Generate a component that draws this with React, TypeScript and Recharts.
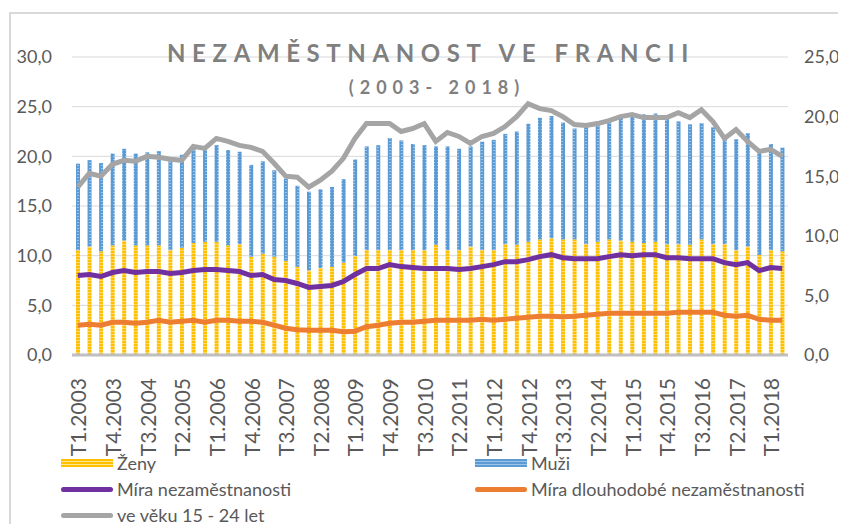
import React from 'react';
import { ComposedChart, Bar, Line, XAxis, YAxis, CartesianGrid } from 'recharts';

// quarters T1.2003 .. T2.2018
const quarters: string[] = [];
for (let y = 2003; y <= 2018; y++) {
  for (let q = 1; q <= 4; q++) {
    if (y === 2018 && q > 2) break;
    quarters.push(`T${q}.${y}`);
  }
}

// bars read on the right axis (0-25)
const zeny = [
  8.8, 9.1, 8.7, 9.2, 9.6, 9.2, 9.2, 9.2, 8.8, 9.0,
  9.4, 9.5, 9.5, 9.2, 9.3, 8.25, 8.5, 8.25, 7.9, 7.4,
  7.1, 7.3, 7.4, 7.75, 8.3, 8.8, 8.8, 8.8, 8.8, 8.8,
  8.8, 9.25, 8.8, 8.8, 9.1, 8.8, 8.8, 9.3, 9.25, 9.5,
  9.7, 9.8, 9.7, 9.7, 9.3, 9.5, 9.7, 9.6, 9.5, 9.4,
  9.5, 9.3, 9.3, 9.25, 9.7, 9.3, 9.3, 8.8, 9.1, 8.4,
  8.8, 8.7,
];

const muzi = [
  7.25, 7.25, 7.4, 7.7, 7.7, 7.7, 7.8, 7.9, 7.8, 7.8,
  8.0, 7.75, 8.1, 8.0, 7.75, 7.7, 7.75, 7.25, 6.9, 6.8,
  6.6, 6.6, 6.7, 7.0, 8.1, 8.7, 8.8, 9.4, 9.2, 8.9,
  8.8, 8.25, 8.7, 8.5, 8.4, 9.1, 9.25, 9.25, 9.5, 9.9,
  10.2, 10.25, 9.8, 9.3, 10.1, 10.1, 10.1, 10.3, 10.75, 10.8,
  10.75, 10.8, 10.3, 10.1, 9.75, 9.8, 9.0, 9.3, 9.5, 8.7,
  8.9, 8.7,
];

// lines read on the left axis (0-30)
const miraNezam = [
  8.0, 8.1, 7.9, 8.3, 8.5, 8.3, 8.4, 8.4, 8.2, 8.3,
  8.5, 8.6, 8.6, 8.5, 8.4, 8.0, 8.1, 7.6, 7.5, 7.2,
  6.8, 6.9, 7.0, 7.4, 8.1, 8.7, 8.7, 9.1, 8.9, 8.8,
  8.7, 8.7, 8.7, 8.6, 8.7, 8.9, 9.1, 9.4, 9.4, 9.6,
  9.9, 10.1, 9.8, 9.7, 9.7, 9.7, 9.9, 10.1, 10.0, 10.1,
  10.1, 9.8, 9.8, 9.7, 9.7, 9.7, 9.3, 9.1, 9.3, 8.5,
  8.8, 8.7,
];

const miraDlouhodobe = [
  3.0, 3.1, 3.0, 3.3, 3.3, 3.2, 3.3, 3.5, 3.3, 3.4,
  3.5, 3.3, 3.5, 3.5, 3.4, 3.4, 3.3, 3.0, 2.7, 2.55,
  2.5, 2.5, 2.5, 2.35, 2.4, 2.85, 3.0, 3.2, 3.3, 3.3,
  3.4, 3.5, 3.5, 3.5, 3.5, 3.6, 3.5, 3.6, 3.7, 3.8,
  3.9, 3.9, 3.85, 3.9, 4.0, 4.1, 4.2, 4.2, 4.2, 4.2,
  4.2, 4.2, 4.3, 4.3, 4.3, 4.3, 4.0, 3.9, 4.0, 3.6,
  3.5, 3.5,
];

const mladi = [
  16.9, 18.3, 18.0, 19.2, 19.6, 19.5, 20.0, 19.9, 19.7, 19.6,
  21.0, 20.8, 21.8, 21.5, 21.1, 20.9, 20.5, 19.3, 18.0, 17.9,
  16.9, 17.6, 18.5, 19.8, 21.8, 23.3, 23.3, 23.3, 22.5, 22.8,
  23.3, 21.5, 22.4, 22.0, 21.3, 22.0, 22.3, 23.0, 24.0, 25.3,
  24.8, 24.6, 24.0, 23.2, 23.1, 23.3, 23.6, 24.0, 24.2, 23.9,
  23.9, 23.9, 24.4, 23.9, 24.7, 23.5, 21.8, 22.7, 21.5, 20.5,
  20.7, 20.0,
];

const leftTicks = [0, 5, 10, 15, 20, 25, 30];
const rightTicks = [0, 5, 10, 15, 20, 25];

const data = quarters.map((q, i) => ({
  q,
  zeny: zeny[i],
  muzi: muzi[i],
  mira: miraNezam[i],
  dlouho: miraDlouhodobe[i],
  mladi: mladi[i],
}));

const FONT = 'Lato, "Liberation Sans", sans-serif';
const TXT = '#595959';
const fmt = (v: number) => v.toFixed(1).replace('.', ',');

const XTick = (props: any) => {
  const { x, y, payload } = props;
  return (
    <g transform={`translate(${x},${y + 15}) rotate(-90)`}>
      <text x={0} y={0} textAnchor="end" dominantBaseline="central" fill={TXT} fontSize={21} fontFamily={FONT}>
        {payload.value}
      </text>
    </g>
  );
};

const legendItems = [
  { label: 'Ženy', kind: 'bar', color: '#FFC000', light: '#FFE699', x: 53, y: 455 },
  { label: 'Muži', kind: 'bar', color: '#5B9BD5', light: '#9DC3E6', x: 467, y: 455 },
  { label: 'Míra nezaměstnanosti', kind: 'line', color: '#7030A0', x: 53, y: 481 },
  { label: 'Míra dlouhodobé nezaměstnanosti', kind: 'line', color: '#ED7D31', x: 467, y: 481 },
  { label: 've věku 15 - 24 let', kind: 'line', color: '#A5A5A5', x: 53, y: 507 },
];

export default function App() {
  return (
    <div style={{ position: 'relative', width: 838, height: 516, fontFamily: FONT }}>
      <div style={{ position: 'absolute', left: 1, top: 4, right: 0, bottom: 0, borderLeft: '2px solid #D9D9D9', borderTop: '2px solid #D9D9D9' }} />
      <ComposedChart width={838} height={516} data={data} margin={{ top: 49, right: 0, left: 4, bottom: 69 }}>
        <defs>
          <pattern id="patZeny" width="4" height="3" patternUnits="userSpaceOnUse">
            <rect width="4" height="3" fill="#FFC000" />
            <rect y="2" width="4" height="1" fill="#FFD966" />
          </pattern>
          <pattern id="patMuzi" width="4" height="3" patternUnits="userSpaceOnUse">
            <rect width="4" height="3" fill="#5B9BD5" />
            <rect x="1" y="1" width="2" height="1" fill="#9DC3E6" />
          </pattern>
        </defs>
        <CartesianGrid yAxisId="left" vertical={false} stroke="#D9D9D9" />
        <XAxis
          dataKey="q"
          interval={2}
          height={100}
          tickLine={false}
          axisLine={{ stroke: '#BFBFBF', strokeWidth: 3 }}
          tick={<XTick />}
        />
        <YAxis
          yAxisId="left"
          width={60}
          domain={[0, 30]}
          ticks={leftTicks}
          tickFormatter={fmt}
          axisLine={false}
          tickLine={false}
          tickMargin={14}
          tick={{ fill: TXT, fontSize: 18, fontFamily: FONT }}
        />
        <YAxis
          yAxisId="right"
          orientation="right"
          width={58}
          domain={[0, 25]}
          ticks={rightTicks}
          tickFormatter={fmt}
          axisLine={false}
          tickLine={false}
          tickMargin={10}
          tick={{ fill: TXT, fontSize: 18, fontFamily: FONT }}
        />
        <Bar yAxisId="right" dataKey="zeny" stackId="a" barSize={4} fill="url(#patZeny)" isAnimationActive={false} />
        <Bar yAxisId="right" dataKey="muzi" stackId="a" barSize={4} fill="url(#patMuzi)" isAnimationActive={false} />
        <Line yAxisId="left" dataKey="dlouho" type="linear" stroke="#ED7D31" strokeWidth={5} dot={false} isAnimationActive={false} />
        <Line yAxisId="left" dataKey="mira" type="linear" stroke="#7030A0" strokeWidth={5} dot={false} isAnimationActive={false} />
        <Line yAxisId="left" dataKey="mladi" type="linear" stroke="#A5A5A5" strokeWidth={5} dot={false} isAnimationActive={false} />
      </ComposedChart>

      <div style={{ position: 'absolute', left: 8, width: 830, top: 33, textAlign: 'center', fontSize: 24, fontWeight: 700, lineHeight: 1, letterSpacing: 6.6, color: '#7F7F7F' }}>
        NEZAMĚSTNANOST VE FRANCII
      </div>
      <div style={{ position: 'absolute', left: 14, width: 830, top: 70, textAlign: 'center', fontSize: 18, fontWeight: 700, lineHeight: 1, letterSpacing: 6, color: '#7F7F7F' }}>
        (2003- 2018)
      </div>

      {legendItems.map((it) => (
        <div key={it.label} style={{ position: 'absolute', left: it.x, top: it.y - 10, height: 20, display: 'flex', alignItems: 'center', fontSize: 18, lineHeight: '20px', color: TXT, whiteSpace: 'nowrap' }}>
          {it.kind === 'bar' ? (
            <span style={{ display: 'inline-block', width: 52, height: 8, background: `repeating-linear-gradient(${it.color} 0 2px, ${it.light} 2px 3px)` }} />
          ) : (
            <span style={{ display: 'inline-block', width: 52, height: 5, borderRadius: 3, background: it.color }} />
          )}
          <span style={{ marginLeft: 4 }}>{it.label}</span>
        </div>
      ))}
    </div>
  );
}
